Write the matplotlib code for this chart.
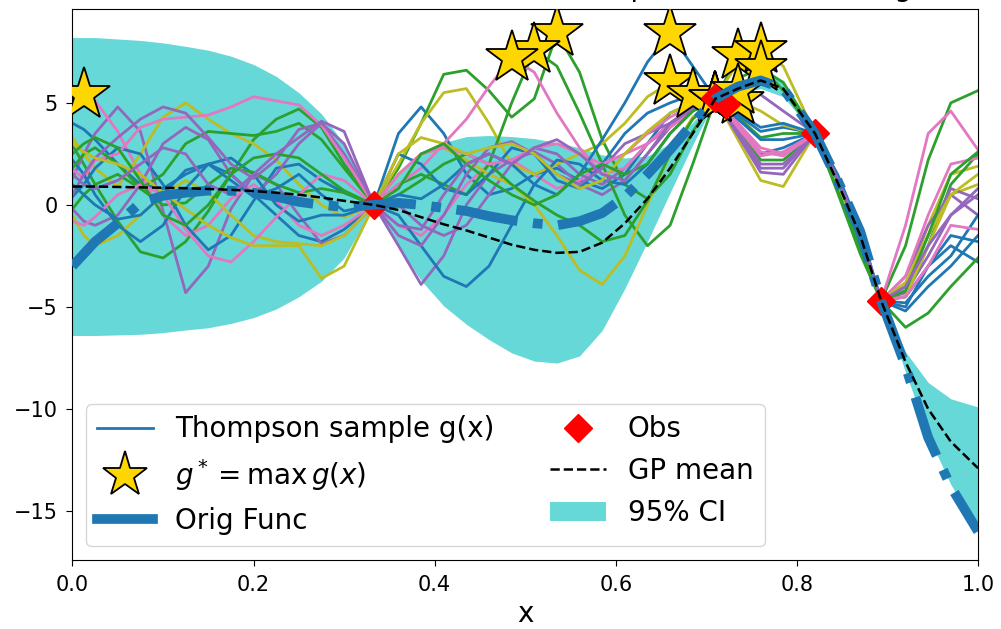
import numpy as np
import matplotlib
matplotlib.use('Agg')
import matplotlib.pyplot as plt
from matplotlib.lines import Line2D
from matplotlib.patches import Patch

# grid the curves were read on
x_grid = [0.0, 0.0125, 0.025, 0.05, 0.075, 0.1, 0.125, 0.15, 0.175, 0.2, 0.225, 0.25, 0.275, 0.3,
          0.333, 0.36, 0.385, 0.41, 0.435, 0.46, 0.485, 0.51, 0.535, 0.56, 0.585, 0.61, 0.635, 0.66, 0.685,
          0.71, 0.735, 0.76, 0.785, 0.82, 0.845, 0.87, 0.893, 0.92, 0.945, 0.97, 1.0]

# observations
obs_x = [0.333, 0.71, 0.722, 0.82, 0.893]
obs_y = [0.0, 5.25, 4.95, 3.5, -4.7]

# true function
orig_func = [-3.0, -2.4, -1.8, -0.9, 0.1, 0.45, 0.6, 0.7, 0.7, 0.6, 0.4, 0.15, 0.0, -0.1,
             0.0, 0.1, 0.0, -0.15, -0.3, -0.55, -0.75, -0.9, -1.0, -0.8, -0.4, 0.4, 1.5, 2.7, 4.0,
             5.2, 5.8, 6.1, 5.7, 3.5, 1.2, -1.3, -4.7, -7.9, -11.4, -13.8, -16.0]

# GP posterior mean and half width of the 95% band
gp_mean = [0.9, 0.9, 0.9, 0.88, 0.86, 0.84, 0.82, 0.78, 0.74, 0.68, 0.6, 0.5, 0.36, 0.2,
           0.0, -0.25, -0.6, -0.95, -1.25, -1.6, -1.95, -2.2, -2.35, -2.3, -1.85, -0.9, 0.3, 1.8, 3.5,
           5.2, 5.7, 6.1, 5.7, 3.5, 1.1, -1.5, -4.7, -7.7, -10.0, -11.6, -12.9]
ci_half = [7.3, 7.3, 7.3, 7.25, 7.2, 7.1, 6.95, 6.8, 6.55, 6.2, 5.7, 5.0, 4.1, 2.8,
           0.05, 1.8, 3.1, 4.0, 4.6, 5.0, 5.3, 5.45, 5.4, 5.1, 4.3, 3.2, 2.1, 1.2, 0.55,
           0.05, 0.2, 0.4, 0.4, 0.05, 0.3, 0.3, 0.05, 0.5, 1.3, 2.1, 3.0]

# Thompson samples g(x)
s01 = [4.0, 3.7, 3.2, 2.0, 1.0, 0.8, 1.5, 2.0, 1.5, 0.5, -0.5, -1.5, -1.8, -1.2,
       0.0, 3.5, 4.8, 3.5, 1.5, 0.5, 0.8, 1.5, 1.8, 1.2, 0.8, 1.5, 3.0, 4.5, 5.0,
       5.2, 4.0, 2.5, 2.8, 3.5, 1.2, -1.6, -4.7, -4.5, -3.0, -1.5, -1.8]
s02 = [2.9, 2.0, 1.0, -0.8, -2.3, -2.6, -1.8, -0.3, 1.5, 3.2, 4.2, 4.7, 3.8, 2.0,
       0.0, 1.8, 4.0, 6.4, 6.6, 5.6, 4.3, 5.2, 8.4, 6.5, 3.2, 1.0, 0.3, 1.5, 3.6,
       5.2, 4.3, 3.3, 3.5, 3.5, 1.0, -1.8, -4.7, -2.0, 2.2, 5.0, 5.6]
s03 = [1.3, 2.5, 3.5, 4.8, 3.6, -0.3, -4.3, -3.0, -0.2, 1.5, 1.0, -0.5, -1.9, -1.5,
       0.0, -2.0, -3.9, -2.5, 0.0, 1.5, 2.2, 2.6, 2.0, 1.0, 0.5, 1.2, 2.5, 3.8, 4.8,
       5.2, 3.5, 1.8, 1.8, 3.5, 1.0, -1.9, -4.7, -4.3, -2.5, -0.5, 0.8]
s04 = [5.2, 5.4, 5.1, 3.6, 1.5, -0.5, -1.5, -1.0, 0.3, 1.0, 0.2, -1.0, -1.5, -1.0,
       0.0, -1.0, -1.5, -0.5, 1.0, 2.0, 2.2, 1.5, 0.8, 1.2, 2.0, 2.5, 3.0, 3.8, 4.6,
       5.15, 4.0, 2.8, 2.5, 3.5, 1.4, -1.3, -4.7, -1.0, 3.5, 4.6, 2.7]
s05 = [3.3, 2.5, 1.8, 0.9, 2.5, 4.3, 5.0, 4.2, 3.5, 3.0, 2.2, 1.0, 0.0, -0.6,
       0.0, 2.0, 4.0, 5.5, 5.7, 4.0, 2.0, 1.5, 2.0, 2.5, 3.0, 4.0, 5.3, 6.0, 5.6,
       5.2, 3.2, 1.2, 0.9, 3.5, 0.8, -2.2, -4.7, -4.0, -1.0, 1.5, 1.9]
s06 = [0.4, 1.0, 1.8, 2.8, 2.5, 1.0, -1.0, -2.2, -1.5, 0.2, 1.8, 2.0, 1.2, 0.6,
       0.0, -0.5, -2.0, -3.5, -4.0, -3.0, -1.0, 1.0, 2.2, 2.0, 1.2, 1.0, 2.0, 3.5, 4.6,
       5.2, 4.4, 3.6, 3.8, 3.5, 1.1, -1.7, -4.7, -5.0, -3.0, -2.0, -2.8]
s07 = [-0.2, 0.5, 1.0, 1.5, 0.8, 1.5, 3.0, 3.6, 3.5, 3.4, 3.6, 4.0, 3.2, 1.8,
       0.0, 1.0, 1.5, 1.0, 0.5, 2.0, 5.0, 7.6, 6.8, 4.5, 2.0, -0.5, -2.0, -1.0, 2.0,
       5.2, 3.8, 2.2, 2.2, 3.5, 0.9, -2.0, -4.7, -4.5, -2.0, 1.0, 2.5]
s08 = [-0.2, -0.8, -1.0, -0.5, 1.0, 3.0, 3.8, 3.2, 1.5, 0.5, 1.5, 3.0, 4.0, 2.5,
       0.0, 0.0, -1.0, -1.5, -1.0, 0.5, 2.0, 2.8, 2.5, 1.5, 1.0, 1.8, 3.0, 4.0, 4.8,
       5.2, 3.6, 2.0, 2.0, 3.5, 1.3, -1.4, -4.7, -3.5, -1.0, 0.5, -0.5]
s09 = [1.75, 1.3, 2.2, 2.5, 3.8, 4.2, 4.3, 4.4, 4.8, 5.3, 5.1, 4.9, 3.9, 2.3,
       0.0, 1.0, 1.8, 3.0, 4.2, 5.8, 7.2, 6.5, 4.5, 2.8, 1.5, 1.8, 3.0, 4.0, 4.8,
       5.2, 3.8, 2.4, 2.6, 3.5, 1.0, -1.8, -4.7, -3.5, -0.5, 2.0, 2.3]
s10 = [-0.5, -1.5, -2.0, -1.5, -0.5, 0.5, 1.2, 0.6, -0.5, -1.5, -1.8, -1.9, -2.0, -1.5,
       0.0, 1.5, 2.5, 2.8, 2.2, 1.5, 1.0, 0.0, -1.5, -3.2, -3.9, -2.5, 0.0, 2.5, 4.3,
       5.0, 5.1, 4.6, 3.9, 3.5, 1.2, -1.5, -4.7, -4.5, -2.0, 0.5, 1.0]
s11 = [2.2, 1.5, 0.5, -1.0, -1.8, -1.0, 0.8, 2.0, 2.3, 1.5, 0.0, -0.8, -0.5, -0.5,
       0.0, 2.5, 2.0, 0.8, 0.5, 1.5, 2.8, 2.5, 1.2, 0.8, 2.0, 3.5, 4.5, 5.0, 5.4,
       5.2, 4.2, 3.2, 3.2, 3.5, 1.5, -1.2, -4.7, -4.8, -3.5, -2.5, -0.5]
s12 = [1.8, 2.5, 2.8, 2.0, 0.8, 0.0, 0.1, 1.0, 1.8, 1.6, 1.0, 0.6, 0.8, 0.6,
       0.0, 0.5, 1.2, 2.0, 2.5, 2.0, 1.0, 0.2, -0.5, -1.0, -1.8, -1.5, 0.2, 2.5, 4.2,
       5.2, 7.3, 6.8, 5.6, 3.5, 0.6, -2.4, -4.7, -6.0, -5.3, -4.0, -2.6]
s13 = [0.5, 1.5, 2.3, 3.3, 4.2, 4.8, 4.5, 3.3, 2.0, 1.3, 2.2, 3.7, 4.0, 3.0,
       0.0, -1.5, -2.0, -0.5, 1.5, 2.8, 3.1, 2.5, 1.5, 1.0, 1.8, 3.0, 3.5, 4.0, 4.7,
       5.2, 3.4, 1.6, 1.5, 3.5, 1.0, -1.8, -4.7, -4.0, -1.5, 0.8, 0.3]
s14 = [-0.8, -1.0, -0.6, 0.5, 1.0, 0.5, -1.2, -2.5, -2.8, -1.8, -0.6, 0.5, 1.5, 1.2,
       0.0, 1.5, 2.5, 2.8, 2.5, 2.0, 2.2, 2.8, 3.0, 2.5, 2.0, 2.5, 3.5, 4.3, 4.9,
       5.2, 3.9, 2.6, 2.4, 3.5, 1.1, -1.6, -4.7, -4.5, -3.0, -1.0, -1.2]
s15 = [3.0, 2.6, 2.3, 2.0, 1.5, 0.6, -0.2, -1.0, -1.6, -2.0, -2.0, -2.0, -3.6, -3.0,
       0.0, 2.5, 3.3, 3.0, 2.5, 2.8, 3.0, 2.5, 1.5, 0.8, 1.2, 2.5, 3.6, 4.5, 5.0,
       5.2, 7.0, 7.6, 6.8, 3.5, 1.0, -1.9, -4.7, -3.8, -1.5, 0.5, 1.5]
s16 = [1.0, 0.5, 0.0, -0.7, -0.5, 0.5, 1.7, 2.0, 1.2, 0.4, 0.8, 1.5, 0.5, -0.3,
       0.0, 0.5, 0.3, 1.0, 2.0, 2.5, 2.0, 1.0, 0.5, 1.5, 3.2, 5.0, 7.0, 8.4, 6.8,
       5.2, 4.5, 3.8, 4.0, 3.5, 1.2, -1.5, -4.7, -5.2, -4.0, -3.0, -1.5]
s17 = [2.5, 3.0, 3.3, 2.8, 1.2, -0.5, -1.0, 0.0, 1.5, 2.3, 2.5, 2.3, 1.5, 0.7,
       0.0, 0.8, 2.5, 3.0, 2.0, 1.2, 0.5, 0.0, 0.5, 1.5, 2.0, 1.5, 2.0, 3.5, 4.6,
       5.2, 6.2, 6.7, 6.0, 3.5, 0.7, -2.1, -4.7, -4.2, -1.5, 1.5, 2.6]
s18 = [1.5, 1.0, 0.8, 1.2, 2.0, 2.8, 2.5, 1.0, 0.5, 1.5, 2.5, 3.3, 4.1, 3.6,
       0.0, -1.0, -1.2, 0.5, 2.0, 2.5, 2.0, 2.8, 3.2, 2.5, 1.5, 1.2, 2.5, 4.0, 4.8,
       5.2, 5.6, 5.4, 4.6, 3.5, 1.3, -1.3, -4.7, -4.0, -2.0, -0.5, 0.5]

samples = [s01, s02, s03, s04, s05, s06, s07, s08, s09, s10,
           s11, s12, s13, s14, s15, s16, s17, s18]
sample_colors = ['tab:blue', 'tab:green', 'tab:purple', 'tab:pink', 'tab:olive']

x = np.array(x_grid)
mu = np.array(gp_mean)
hw = np.array(ci_half)

fig = plt.figure(figsize=(10.01, 6.29), dpi=100)
ax = fig.add_axes([0.0724, 0.1097, 0.9046, 0.876])

ax.fill_between(x, mu - hw, mu + hw, color='c', alpha=0.6, lw=0, zorder=1)

for k, s in enumerate(samples):
    s = np.array(s)
    col = sample_colors[k % len(sample_colors)]
    ax.plot(x, s, color=col, lw=2, zorder=2)
    i = np.argmax(s)    # max of this sample -> star
    ax.plot(x[i], s[i], '*', ms=40, mfc='gold', mec='k', mew=1.3, zorder=3)

ax.plot(obs_x, obs_y, 'rD', ms=14, zorder=4)
ax.plot(x, orig_func, '-.', color='tab:blue', lw=7, zorder=5)
ax.plot(x, mu, 'k--', lw=1.8, zorder=6)

ax.set_xlim(0, 1)
ax.set_ylim(-17.4, 9.6)
ax.set_yticks([-15, -10, -5, 0, 5])
ax.tick_params(labelsize=15, length=4.5, pad=6)
ax.set_xlabel('x', fontsize=20)
# title sits mostly above the top edge of the figure, as in the original
ax.set_title('Iteration 15: 20 draws from the GP posterior and max g', fontsize=20, pad=9)

handles = [Line2D([], [], color='tab:blue', lw=2),
           Line2D([], [], ls='none', marker='*', ms=34, mfc='gold', mec='k', mew=1.3),
           Line2D([], [], color='tab:blue', lw=7),
           Line2D([], [], ls='none', marker='D', ms=14, color='r'),
           Line2D([], [], color='k', ls='--', lw=1.8),
           Patch(facecolor='c', alpha=0.6)]
labels = ['Thompson sample g(x)', r'$g^*=\max\, g(x)$', 'Orig Func',
          'Obs', 'GP mean', '95% CI']
ax.legend(handles, labels, loc='lower left', ncol=2, fontsize=20)

fig.savefig('out.png', dpi=100)
